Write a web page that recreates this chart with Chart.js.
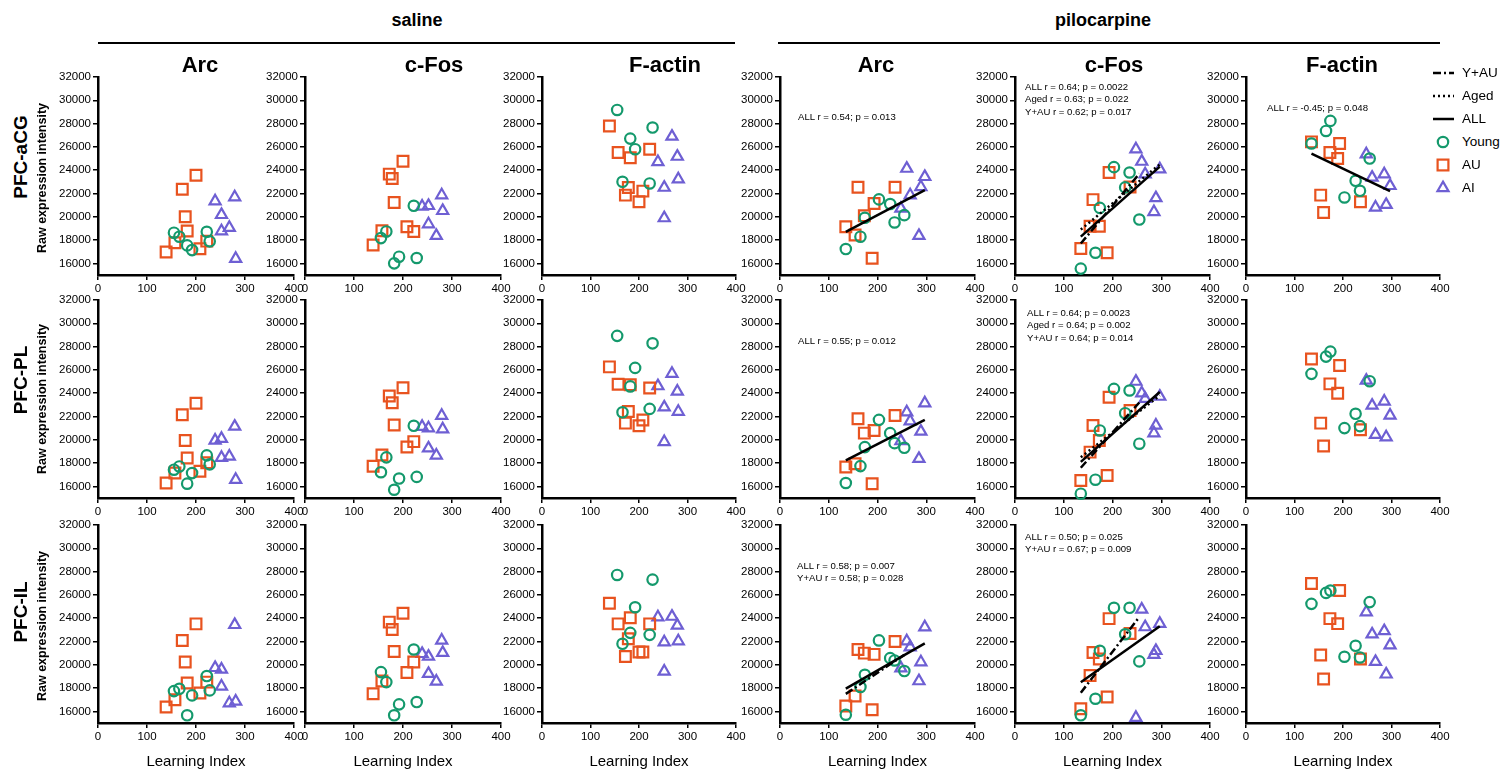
<!DOCTYPE html>
<html><head><meta charset="utf-8">
<script src="https://cdn.jsdelivr.net/npm/chart.js@4.4.1/dist/chart.umd.min.js"></script>
<style>
body{margin:0;background:#fff;width:1500px;height:771px;overflow:hidden;position:relative;font-family:"Liberation Sans",Arial,Helvetica,sans-serif;}
canvas{position:absolute;}
.t{position:absolute;white-space:nowrap;color:#000;line-height:1;z-index:5;}
.hl{position:absolute;height:0;border-top:2.5px solid #000;z-index:5;}
svg{position:absolute;left:0;top:0;z-index:6;}
</style></head><body>
<script>
// ---------- categories / tick labels ----------
const columns = ["Arc", "c-Fos", "F-actin", "Arc", "c-Fos", "F-actin"];
const rowNames = ["PFC-aCG", "PFC-PL", "PFC-IL"];
const groups = ["saline", "pilocarpine"];
const yTicks = [16000, 18000, 20000, 22000, 24000, 26000, 28000, 30000, 32000];
const xTicks = [0, 100, 200, 300, 400];

// ---------- learning index (x) per animal ----------
const salYoungX = [155, 166, 182, 192, 222, 228];
const salAUX = [139, 157, 172, 178, 182, 200, 208, 222];
const salAIX = [239, 252, 252, 268, 279, 281];
const piloYoungX = [135, 165, 174, 203, 226, 235, 255];
const piloAUX = [135, 154, 160, 173, 189, 193, 236];
const piloAIX = [248, 260, 267, 285, 289, 297];

// ---------- PFC-aCG ----------
const sArcAcgYoung = [18630, 18290, 17540, 17140, 18710, 17890];
const sArcAcgAU = [16970, 17770, 22370, 20000, 18770, 23570, 17260, 17910];
const sArcAcgAI = [21340, 20170, 18770, 19060, 21690, 16400];
const sFosAcgYoung = [18170, 18740, 16000, 16570, 20940, 16460];
const sFosAcgAU = [17570, 18800, 23660, 23290, 21230, 24770, 19140, 18740];
const sFosAcgAI = [20890, 20940, 19370, 18370, 21860, 20510];
const sActAcgYoung = [29170, 23000, 26710, 25800, 22860, 27660];
const sActAcgAU = [27800, 25510, 21860, 22510, 25060, 21290, 22200, 25800];
const sActAcgAI = [24710, 22510, 19890, 26890, 25170, 23230];
const pArcAcgYoung = [17230, 18290, 19910, 21490, 21090, 19510, 20140];
const pArcAcgAU = [19140, 18430, 22540, 20090, 16430, 21140, 22540];
const pArcAcgAI = [20710, 24140, 21860, 18370, 22570, 23430];
const pFosAcgYoung = [15550, 16910, 20760, 24260, 22520, 23800, 19760];
const pFosAcgAU = [17280, 19190, 21470, 19190, 16910, 23800, 22550];
const pFosAcgAI = [25800, 24740, 23660, 20420, 21610, 24090];
const pActAcgYoung = [26290, 27370, 28230, 21660, 23090, 22230, 25000];
const pActAcgAU = [26430, 21860, 20370, 25510, 25000, 26290, 21290];
const pActAcgAI = [25370, 23370, 20800, 23660, 21030, 22660];

// ---------- PFC-PL ----------
const sArcPlYoung = [17430, 17710, 16230, 17140, 18660, 17890];
const sArcPlAU = [16290, 17140, 22140, 19940, 18430, 23140, 17290, 18030];
const sArcPlAI = [19940, 20090, 18460, 18570, 21140, 16570];
const sFosPlYoung = [17210, 18490, 15710, 16670, 21200, 16810];
const sFosPlAU = [17730, 18690, 23750, 23170, 21260, 24470, 19380, 19840];
const sFosPlAI = [21120, 21000, 19270, 18660, 22070, 20910];
const sActPlYoung = [28920, 22360, 24580, 26170, 22650, 28280];
const sActPlAU = [26260, 24760, 21430, 22420, 24730, 21200, 21690, 24440];
const sActPlAI = [24610, 22790, 19820, 25680, 24150, 22420];
const pArcPlYoung = [16290, 17740, 19370, 21710, 20570, 19710, 19310];
const pArcPlAU = [17660, 17940, 21800, 20570, 16230, 20800, 22090];
const pArcPlAI = [19890, 22370, 21600, 18370, 20710, 23140];
const pFosPlYoung = [15370, 16570, 20800, 24370, 22280, 24230, 19660];
const pFosPlAU = [16510, 18940, 21230, 19940, 16940, 23650, 22510];
const pFosPlAI = [25000, 24000, 23520, 20570, 21230, 23710];
const pActPlYoung = [25660, 27140, 27570, 21000, 22230, 21170, 25030];
const pActPlAU = [26940, 21430, 19460, 24800, 24000, 26370, 20860];
const pActPlAI = [25090, 22940, 20430, 23290, 20230, 22090];

// ---------- PFC-IL ----------
const sArcIlYoung = [17740, 17940, 15660, 17370, 19030, 17800];
const sArcIlAU = [16370, 17000, 22090, 20230, 18430, 23510, 17570, 18510];
const sArcIlAI = [19740, 19600, 18140, 16710, 23430, 16860];
const sFosIlYoung = [19370, 18510, 15660, 16600, 21310, 16800];
const sFosIlAU = [17510, 18600, 23660, 23030, 21140, 24430, 19340, 20230];
const sFosIlAI = [20940, 20710, 19230, 18570, 22090, 21030];
const sActIlYoung = [27710, 21800, 22740, 24940, 22570, 27310];
const sActIlAU = [25290, 23510, 20710, 22230, 24030, 21090, 21090, 23510];
const sActIlAI = [24090, 21940, 19430, 24140, 23370, 22030];
const pArcIlYoung = [15710, 18090, 19140, 22090, 20570, 20370, 19460];
const pArcIlAU = [16460, 17310, 21310, 21000, 16140, 20890, 22000];
const pArcIlAI = [19710, 22030, 21510, 18600, 20230, 23230];
const pFosIlYoung = [15660, 17080, 21200, 24890, 22620, 24890, 20290];
const pFosIlAU = [16230, 19070, 21060, 20490, 17230, 23960, 22680];
const pFosIlAI = [15460, 24750, 23240, 20860, 21200, 23530];
const pActIlYoung = [25230, 26170, 26370, 20690, 21630, 20630, 25380];
const pActIlAU = [26970, 20830, 18780, 23960, 23530, 26370, 20490];
const pActIlAI = [24520, 22620, 20260, 22900, 19180, 21680];

// ---------- regression lines (end values at x range) ----------
const fitXAll = [135, 297];
const fitXYau = [135, 255];
const pArcAcgAll = [18700, 22290];
const pFosAcgAll = [18300, 24300];
const pFosAcgAged = [18900, 24500];
const pFosAcgYau = [17700, 23700];
const pActAcgAll = [25430, 22200];
const pArcPlAll = [18230, 21710];
const pFosPlAll = [18100, 24100];
const pFosPlAged = [18500, 23800];
const pFosPlYau = [17600, 23200];
const pArcIlAll = [17950, 21830];
const pArcIlYau = [17500, 20850];
const pFosIlAll = [18500, 23300];
const pFosIlYau = [17600, 24100];

// ---------- statistics text ----------
const statsArcAcg = ["ALL r = 0.54; p = 0.013"];
const statsFosAcg = ["ALL r = 0.64; p = 0.0022", "Aged r = 0.63; p = 0.022", "Y+AU r = 0.62; p = 0.017"];
const statsActAcg = ["ALL r = -0.45; p = 0.048"];
const statsArcPl = ["ALL r = 0.55; p = 0.012"];
const statsFosPl = ["ALL r = 0.64; p = 0.0023", "Aged r = 0.64; p = 0.002", "Y+AU r = 0.64; p = 0.014"];
const statsArcIl = ["ALL r = 0.58; p = 0.007", "Y+AU r = 0.58; p = 0.028"];
const statsFosIl = ["ALL r = 0.50; p = 0.025", "Y+AU r = 0.67; p = 0.009"];

const legendLines = ["Y+AU", "Aged", "ALL"];
const legendGroups = ["Young", "AU", "AI"];

// ================= drawing =================
const GREEN = "#14996c", ORANGE = "#e8531f", PURPLE = "#6e5fd3";
const FONT = '"Liberation Sans", Arial, Helvetica, sans-serif';
const colLeft = [98, 305, 542, 780, 1015, 1246];
const colW = [196, 196, 194, 195, 195, 194];
const rowTop = [77, 300, 525];
const rowH = 198;
const PADL = 50, PADT = 10, PADR = 14, PADB = 24;
const DASH = { all: [], aged: [2, 3], yau: [8, 3, 2, 3] };

function txt(s, x, y, css, anchor) {
  const d = document.createElement('div');
  d.className = 't';
  d.textContent = s;
  d.style.left = x + 'px'; d.style.top = y + 'px';
  d.style.cssText += css;
  d.style.transform = anchor || 'translate(-50%,-50%)';
  document.body.appendChild(d);
  return d;
}

function panel(col, row, yY, yAU, yAI, lines, stats, statPos) {
  const sal = col < 3;
  const yx = sal ? salYoungX : piloYoungX, ax = sal ? salAUX : piloAUX, ix = sal ? salAIX : piloAIX;
  const cv = document.createElement('canvas');
  const W = PADL + colW[col] + PADR, H = PADT + rowH + PADB;
  cv.width = W; cv.height = H;
  cv.style.left = (colLeft[col] - PADL) + 'px'; cv.style.top = (rowTop[row] - PADT) + 'px';
  cv.style.width = W + 'px'; cv.style.height = H + 'px';
  document.body.appendChild(cv);
  const pts = (xs, ys) => xs.map((x, i) => ({ x: x, y: ys[i] }));
  const ds = [];
  (lines || []).forEach(l => ds.push({ data: pts(l.x, l.y), showLine: true, borderColor: '#000', borderWidth: 2.5,
    borderDash: l.dash, pointRadius: 0, fill: false, clip: false }));
  ds.push({ data: pts(yx, yY), pointStyle: 'circle', pointRadius: 5.2, borderColor: GREEN, pointBorderColor: GREEN,
    backgroundColor: 'rgba(0,0,0,0)', borderWidth: 2.2, pointBorderWidth: 2.2, clip: false });
  ds.push({ data: pts(ax, yAU), pointStyle: 'rect', pointRadius: 7.6, borderColor: ORANGE, pointBorderColor: ORANGE,
    backgroundColor: 'rgba(0,0,0,0)', borderWidth: 2.2, pointBorderWidth: 2.2, clip: false });
  ds.push({ data: pts(ix, yAI), pointStyle: 'triangle', pointRadius: 6.4, borderColor: PURPLE, pointBorderColor: PURPLE,
    backgroundColor: 'rgba(0,0,0,0)', borderWidth: 2.2, pointBorderWidth: 2.2, clip: false });
  const tickFont = { family: FONT, size: 11.5 };
  const grid = { display: true, drawOnChartArea: false, drawTicks: true, tickLength: 5, color: '#000', lineWidth: 1.5 };
  const border = { display: true, color: '#000', width: 2.5 };
  new Chart(cv, {
    type: 'scatter',
    data: { datasets: ds },
    options: {
      responsive: false, animation: false, events: [],
      layout: { padding: { left: 0, top: PADT, right: PADR, bottom: 0 } },
      plugins: { legend: { display: false }, tooltip: { enabled: false } },
      scales: {
        x: { type: 'linear', min: 0, max: 400,
          afterBuildTicks: s => { s.ticks = xTicks.map(v => ({ value: v })); },
          ticks: { font: tickFont, color: '#000', padding: 2, maxRotation: 0, autoSkip: false, callback: v => String(v) },
          grid: grid, border: border, afterFit: s => { s.height = PADB; } },
        y: { type: 'linear', min: 15000, max: 32000,
          afterBuildTicks: s => { s.ticks = yTicks.map(v => ({ value: v })); },
          ticks: { font: tickFont, color: '#000', padding: 2, autoSkip: false, callback: v => String(v) },
          grid: grid, border: border, afterFit: s => { s.width = PADL; } }
      }
    }
  });
  if (stats) stats.forEach((s, i) => txt(s, statPos[0], statPos[1] + i * 12.4, 'font-size:9.6px;', 'translate(0,-50%)'));
}

const L = (x, y, dash) => ({ x: x, y: y, dash: dash });

// row 0: aCG
panel(0, 0, sArcAcgYoung, sArcAcgAU, sArcAcgAI);
panel(1, 0, sFosAcgYoung, sFosAcgAU, sFosAcgAI);
panel(2, 0, sActAcgYoung, sActAcgAU, sActAcgAI);
panel(3, 0, pArcAcgYoung, pArcAcgAU, pArcAcgAI, [L(fitXAll, pArcAcgAll, DASH.all)], statsArcAcg, [798, 117]);
panel(4, 0, pFosAcgYoung, pFosAcgAU, pFosAcgAI, [L(fitXAll, pFosAcgAll, DASH.all), L(fitXAll, pFosAcgAged, DASH.aged), L(fitXYau, pFosAcgYau, DASH.yau)], statsFosAcg, [1025, 87]);
panel(5, 0, pActAcgYoung, pActAcgAU, pActAcgAI, [L(fitXAll, pActAcgAll, DASH.all)], statsActAcg, [1267, 108]);
// row 1: PL
panel(0, 1, sArcPlYoung, sArcPlAU, sArcPlAI);
panel(1, 1, sFosPlYoung, sFosPlAU, sFosPlAI);
panel(2, 1, sActPlYoung, sActPlAU, sActPlAI);
panel(3, 1, pArcPlYoung, pArcPlAU, pArcPlAI, [L(fitXAll, pArcPlAll, DASH.all)], statsArcPl, [798, 341]);
panel(4, 1, pFosPlYoung, pFosPlAU, pFosPlAI, [L(fitXAll, pFosPlAll, DASH.all), L(fitXAll, pFosPlAged, DASH.aged), L(fitXYau, pFosPlYau, DASH.yau)], statsFosPl, [1027, 313]);
panel(5, 1, pActPlYoung, pActPlAU, pActPlAI);
// row 2: IL
panel(0, 2, sArcIlYoung, sArcIlAU, sArcIlAI);
panel(1, 2, sFosIlYoung, sFosIlAU, sFosIlAI);
panel(2, 2, sActIlYoung, sActIlAU, sActIlAI);
panel(3, 2, pArcIlYoung, pArcIlAU, pArcIlAI, [L(fitXAll, pArcIlAll, DASH.all), L(fitXYau, pArcIlYau, DASH.yau)], statsArcIl, [797, 566]);
panel(4, 2, pFosIlYoung, pFosIlAU, pFosIlAI, [L(fitXAll, pFosIlAll, DASH.all), L(fitXYau, pFosIlYau, DASH.yau)], statsFosIl, [1025, 537]);
panel(5, 2, pActIlYoung, pActIlAU, pActIlAI);

// headers
txt(groups[0], 417, 20, 'font-size:18px;font-weight:bold;');
txt(groups[1], 1103, 20, 'font-size:18px;font-weight:bold;');
[[98, 735], [778, 1440]].forEach(([a, b]) => {
  const d = document.createElement('div'); d.className = 'hl';
  d.style.left = a + 'px'; d.style.top = '42px'; d.style.width = (b - a) + 'px';
  document.body.appendChild(d);
});
const titleX = [200, 434, 665, 876, 1114, 1342];
columns.forEach((c, i) => txt(c, titleX[i], 65, 'font-size:22px;font-weight:bold;'));
const rowLabelY = [157, 380, 612], rawY = [178, 399, 626];
rowNames.forEach((r, i) => {
  txt(r, 20, rowLabelY[i], 'font-size:19px;font-weight:bold;', 'translate(-50%,-50%) rotate(-90deg)');
  txt("Raw expression intensity", 42, rawY[i], 'font-size:12.5px;font-weight:bold;', 'translate(-50%,-50%) rotate(-90deg)');
});
colLeft.forEach((l, i) => txt("Learning Index", l + colW[i] / 2, 760, 'font-size:15px;'));

// legend
const ns = 'http://www.w3.org/2000/svg';
const svg = document.createElementNS(ns, 'svg');
svg.setAttribute('width', 1500); svg.setAttribute('height', 771);
document.body.appendChild(svg);
function el(tag, attrs) { const e = document.createElementNS(ns, tag); for (const k in attrs) e.setAttribute(k, attrs[k]); svg.appendChild(e); return e; }
const legY = [73, 96, 119, 142, 165, 188];
const dashes = [DASH.yau, DASH.aged, DASH.all];
legendLines.forEach((n, i) => {
  el('line', { x1: 1433, x2: 1454, y1: legY[i], y2: legY[i], stroke: '#000', 'stroke-width': 2.5, 'stroke-dasharray': dashes[i].length ? dashes[i].join(',') : 'none' });
  txt(n, 1462, legY[i], 'font-size:13.5px;', 'translate(0,-50%)');
});
el('circle', { cx: 1443, cy: legY[3], r: 5.2, fill: 'none', stroke: GREEN, 'stroke-width': 2.2 });
el('rect', { x: 1437.6, y: legY[4] - 5.4, width: 10.8, height: 10.8, fill: 'none', stroke: ORANGE, 'stroke-width': 2.2 });
el('polygon', { points: `1443,${legY[5] - 6.4} ${1443 + 5.54},${legY[5] + 3.2} ${1443 - 5.54},${legY[5] + 3.2}`, fill: 'none', stroke: PURPLE, 'stroke-width': 2.2 });
legendGroups.forEach((n, i) => txt(n, 1462, legY[3 + i], 'font-size:13.5px;', 'translate(0,-50%)'));
</script>
</body></html>
